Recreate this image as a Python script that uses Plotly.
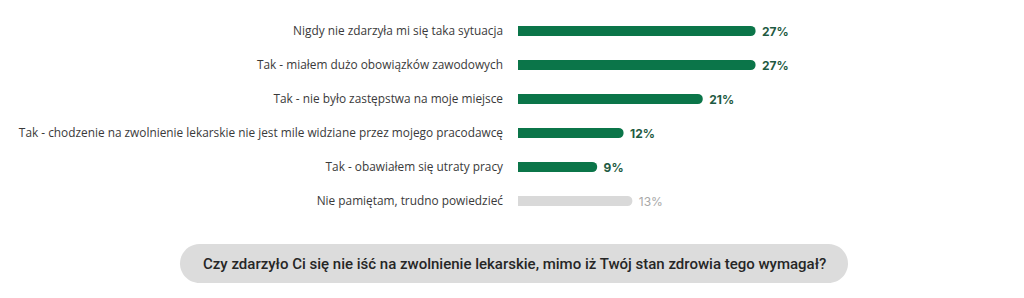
import plotly.graph_objects as go

categories = [
    "Nigdy nie zdarzyła mi się taka sytuacja",
    "Tak - miałem dużo obowiązków zawodowych",
    "Tak - nie było zastępstwa na moje miejsce",
    "Tak - chodzenie na zwolnienie lekarskie nie jest mile widziane przez mojego pracodawcę",
    "Tak - obawiałem się utraty pracy",
    "Nie pamiętam, trudno powiedzieć",
]
values = [27, 27, 21, 12, 9, 13]
value_labels = ["27%", "27%", "21%", "12%", "9%", "13%"]
label_bold = [True, True, True, True, True, False]
bar_colors = ["#0b7549", "#0b7549", "#0b7549", "#0b7549", "#0b7549", "#d9d9d9"]
text_colors = ["#1e5a42", "#1e5a42", "#1e5a42", "#1e5a42", "#1e5a42", "#a8a8a8"]
question = "Czy zdarzyło Ci się nie iść na zwolnienie lekarskie, mimo iż Twój stan zdrowia tego wymagał?"

W, H = 1024, 298
ml, mt, mb = 518, 14, 80
plot_w = W - ml
plot_h = H - mt - mb
px_per_unit = 8.8
xmax = plot_w / px_per_unit

texts = [(" <b>" + t + "</b>") if b else (" " + t) for t, b in zip(value_labels, label_bold)]

fig = go.Figure(go.Bar(
    x=values,
    y=categories,
    orientation="h",
    marker=dict(color=bar_colors, line=dict(width=0)),
    width=0.3,
    text=texts,
    textposition="outside",
    constraintext="none",
    textfont=dict(family="Inter", size=12, color=text_colors),
    cliponaxis=False,
    hoverinfo="skip",
))

def px_to_paper_x(px):
    return (px - ml) / plot_w

def py_to_paper_y(py):
    return (mt + plot_h - py) / plot_h

cx, cy = 514, 263.5
hw, hh = 334, 19.5
r = hh
path = (
    f"M {-hw + r} {-hh} L {hw - r} {-hh} "
    f"C {hw - r + r*0.552} {-hh} {hw} {-r*0.552} {hw} 0 "
    f"C {hw} {r*0.552} {hw - r + r*0.552} {hh} {hw - r} {hh} "
    f"L {-hw + r} {hh} "
    f"C {-hw + r - r*0.552} {hh} {-hw} {r*0.552} {-hw} 0 "
    f"C {-hw} {-r*0.552} {-hw + r - r*0.552} {-hh} {-hw + r} {-hh} Z"
)
fig.add_shape(
    type="path", path=path,
    xref="paper", yref="paper",
    xsizemode="pixel", ysizemode="pixel",
    xanchor=px_to_paper_x(cx), yanchor=py_to_paper_y(cy),
    fillcolor="#dcdcdc", line=dict(width=0), layer="below",
)
fig.add_annotation(
    text=question, xref="paper", yref="paper",
    x=px_to_paper_x(cx), y=py_to_paper_y(cy),
    xanchor="center", yanchor="middle", showarrow=False,
    font=dict(family="Roboto", size=15, color="#262626", weight=500),
)

fig.update_layout(
    width=W, height=H,
    margin=dict(l=ml, r=0, t=mt, b=mb),
    paper_bgcolor="white", plot_bgcolor="white",
    showlegend=False,
    barcornerradius=5,
    xaxis=dict(range=[0, xmax], visible=False, fixedrange=True),
    yaxis=dict(
        autorange="reversed", showgrid=False, zeroline=False, showline=False,
        ticks="", ticklabelstandoff=14,
        tickfont=dict(family="Open Sans", size=11.85, color="#3a3a3a"),
        fixedrange=True,
    ),
)

fig.write_html("out.html")
